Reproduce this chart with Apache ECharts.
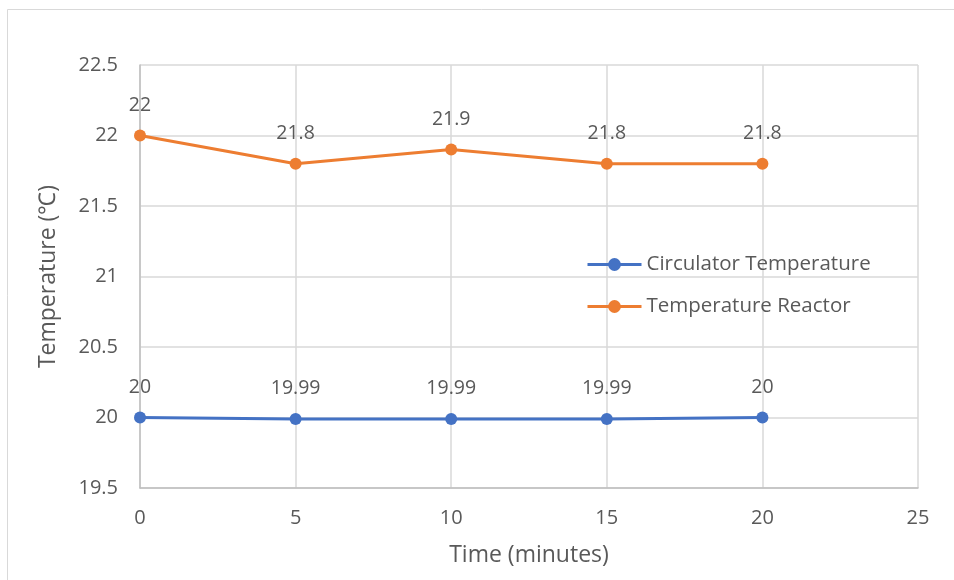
<!DOCTYPE html>
<html>
<head>
<meta charset="utf-8">
<script src="https://cdn.jsdelivr.net/npm/echarts@6/dist/echarts.min.js"></script>
<style>
  html, body { margin: 0; padding: 0; background: #fff; }
  #chart { width: 954px; height: 580px; }
</style>
</head>
<body>
<div id="chart"></div>
<script>
// Sampling times (minutes)
const timeMinutes = [0, 5, 10, 15, 20];
// Circulator bath temperature (°C)
const circulatorTemp = [20, 19.99, 19.99, 19.99, 20];
// Reactor temperature (°C)
const reactorTemp = [22, 21.8, 21.9, 21.8, 21.8];

const seriesNames = ['Circulator Temperature', 'Temperature Reactor'];
const seriesColors = ['#4472C4', '#ED7D31'];

const FONT = '"Open Sans", "Liberation Sans", sans-serif';
const TEXT = '#595959';

const pairs = (xs, ys) => xs.map((x, i) => [x, ys[i]]);

const chart = echarts.init(document.getElementById('chart'), null, { renderer: 'canvas' });

function lineSeries(name, values, color) {
  return {
    name: name,
    type: 'line',
    data: pairs(timeMinutes, values),
    symbol: 'circle',
    symbolSize: 12,
    lineStyle: { color: color, width: 3 },
    itemStyle: { color: color },
    label: {
      show: true,
      position: 'top',
      distance: 14,
      color: TEXT,
      fontFamily: FONT,
      fontSize: 19.5,
      formatter: p => String(p.value[1])
    },
    emphasis: { disabled: true },
    animation: false
  };
}

chart.setOption({
  backgroundColor: '#fff',
  animation: false,
  graphic: [{
    type: 'rect',
    shape: { x: 7.5, y: 9.5, width: 970, height: 600 },
    style: { fill: 'none', stroke: '#d9d9d9', lineWidth: 1 },
    silent: true
  }],
  grid: { left: 140, right: 36, top: 65, bottom: 92, containLabel: false },
  legend: {
    orient: 'vertical',
    left: 586,
    top: 254,
    padding: 0,
    itemWidth: 54,
    itemHeight: 16,
    itemGap: 21,
    lineStyle: { width: 3 },
    data: seriesNames,
    textStyle: { color: TEXT, fontFamily: FONT, fontSize: 20.5 }
  },
  xAxis: {
    type: 'value',
    min: 0,
    max: 25,
    interval: 5,
    name: 'Time (minutes)',
    nameLocation: 'middle',
    nameGap: 56,
    nameTextStyle: { color: TEXT, fontFamily: FONT, fontSize: 23 },
    axisLine: { show: true, lineStyle: { color: '#bfbfbf', width: 1.5 } },
    axisTick: { show: false },
    axisLabel: { color: TEXT, fontFamily: FONT, fontSize: 20, margin: 20 },
    splitLine: { show: true, lineStyle: { color: '#d9d9d9', width: 1.5 } }
  },
  yAxis: {
    type: 'value',
    min: 19.5,
    max: 22.5,
    interval: 0.5,
    name: 'Temperature (℃)',
    nameLocation: 'middle',
    nameGap: 80,
    nameTextStyle: { color: TEXT, fontFamily: FONT, fontSize: 23 },
    axisLine: { show: true, lineStyle: { color: '#bfbfbf', width: 1.5 } },
    axisTick: { show: false },
    axisLabel: { color: TEXT, fontFamily: FONT, fontSize: 20, margin: 22 },
    splitLine: { show: true, lineStyle: { color: '#d9d9d9', width: 1.5 } }
  },
  series: [
    lineSeries(seriesNames[0], circulatorTemp, seriesColors[0]),
    lineSeries(seriesNames[1], reactorTemp, seriesColors[1])
  ]
});
</script>
</body>
</html>
